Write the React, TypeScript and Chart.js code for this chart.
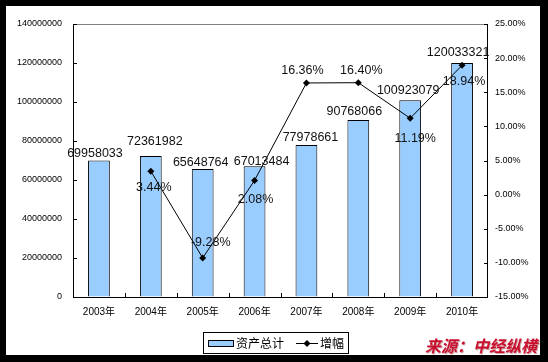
import React, { useEffect, useRef } from "react";
import { Chart, registerables } from "chart.js";

Chart.register(...registerables);

const years = ["2003年", "2004年", "2005年", "2006年", "2007年", "2008年", "2009年", "2010年"];
const totalAssets = [69958033, 72361982, 65648764, 67013484, 77978661, 90768066, 100923079, 120033321];
const growthPct = [null, 3.44, -9.28, 2.08, 16.36, 16.40, 11.19, 18.94];
const seriesNames = ["资产总计", "增幅"];
const leftTicks = { min: 0, max: 140000000, step: 20000000 };
const rightTicks = { min: -15, max: 25, step: 5 };
const sourceText = "来源：中经纵横";

// label placement tweaks (text centre relative to mark top/point), style only
const barLabelOffsets = [[-4, -7.5], [4, -14], [-2, -6], [7, -5], [4, -7.5], [-4, -8.5], [-2, -9.5], [-4, -10]];
const lineLabelOffsets = [[0, 0], [3, 16], [8, -15], [1, 19], [-4, -12.5], [3, -12], [5, 20], [2, 16]];

const LATIN = '"Liberation Sans", Arial, "Noto Sans CJK SC", sans-serif';

const decorPlugin = {
  id: "decor",
  afterDatasetsDraw(chart: any) {
    const ctx = chart.ctx;
    const { left, right, top, bottom } = chart.chartArea;
    ctx.save();
    // plot frame
    ctx.lineWidth = 1;
    ctx.strokeStyle = "#808080";
    ctx.beginPath();
    ctx.moveTo(left, top + 0.5);
    ctx.lineTo(right, top + 0.5);
    ctx.stroke();
    ctx.strokeStyle = "#000";
    ctx.beginPath();
    ctx.moveTo(left + 0.5, top);
    ctx.lineTo(left + 0.5, bottom + 0.5);
    ctx.lineTo(right - 0.5, bottom + 0.5);
    ctx.lineTo(right - 0.5, top);
    ctx.stroke();
    // inward tick marks
    const y = chart.scales.y;
    const y1 = chart.scales.y1;
    ctx.beginPath();
    y.ticks.forEach((t: any) => {
      const py = Math.round(y.getPixelForValue(t.value)) + 0.5;
      ctx.moveTo(left, py);
      ctx.lineTo(left + 4, py);
    });
    y1.ticks.forEach((t: any) => {
      const py = Math.round(y1.getPixelForValue(t.value)) + 0.5;
      ctx.moveTo(right, py);
      ctx.lineTo(right - 4, py);
    });
    const n = chart.data.labels.length;
    const cw = (right - left) / n;
    for (let i = 1; i < n; i++) {
      const px = Math.round(left + cw * i) + 0.5;
      ctx.moveTo(px, bottom);
      ctx.lineTo(px, bottom - 4);
    }
    ctx.stroke();

    // data labels
    ctx.fillStyle = "#111";
    ctx.font = "12.5px " + LATIN;
    ctx.textAlign = "center";
    ctx.textBaseline = "middle";
    const barMeta = chart.getDatasetMeta(0);
    barMeta.data.forEach((el: any, i: number) => {
      const v = chart.data.datasets[0].data[i];
      const off = barLabelOffsets[i] || [0, -8];
      ctx.fillText(String(v), el.x + off[0], el.y + off[1]);
    });
    const lineMeta = chart.getDatasetMeta(1);
    lineMeta.data.forEach((el: any, i: number) => {
      const v = chart.data.datasets[1].data[i];
      if (v === null || v === undefined) return;
      const off = lineLabelOffsets[i] || [0, -12];
      ctx.fillText(Number(v).toFixed(2) + "%", el.x + off[0], el.y + off[1]);
    });

    // legend
    const lx = 203, ly = 332, lw = 145, lh = 21;
    ctx.fillStyle = "#fff";
    ctx.fillRect(lx, ly, lw, lh);
    ctx.strokeStyle = "#000";
    ctx.strokeRect(lx + 0.5, ly + 0.5, lw, lh);
    const ds0 = chart.data.datasets[0];
    const ds1 = chart.data.datasets[1];
    ctx.fillStyle = ds0.backgroundColor;
    ctx.fillRect(208, 340, 25, 6);
    ctx.strokeRect(208.5, 340.5, 25, 6);
    ctx.fillStyle = "#000";
    ctx.font = '12px "Noto Sans CJK SC", sans-serif';
    ctx.textAlign = "left";
    ctx.textBaseline = "middle";
    ctx.fillText(ds0.label, 236, 343);
    ctx.beginPath();
    ctx.moveTo(296, 343.5);
    ctx.lineTo(318, 343.5);
    ctx.stroke();
    ctx.beginPath();
    ctx.moveTo(307, 340);
    ctx.lineTo(310.5, 343.5);
    ctx.lineTo(307, 347);
    ctx.lineTo(303.5, 343.5);
    ctx.closePath();
    ctx.fill();
    ctx.fillText(ds1.label, 320, 343);
    ctx.restore();
  },
};

export default function App() {
  const ref = useRef<HTMLCanvasElement | null>(null);
  useEffect(() => {
    if (!ref.current) return;
    const chart = new Chart(ref.current, {
      type: "bar",
      data: {
        labels: years,
        datasets: [
          {
            type: "bar",
            label: seriesNames[0],
            data: totalAssets,
            yAxisID: "y",
            backgroundColor: "#99CCFF",
            borderColor: "#000",
            borderWidth: 1,
            barPercentage: 0.42,
            categoryPercentage: 1,
            order: 2,
          } as any,
          {
            type: "line",
            label: seriesNames[1],
            data: growthPct,
            yAxisID: "y1",
            borderColor: "#000",
            borderWidth: 1,
            pointStyle: "rectRot",
            pointRadius: 3.5,
            pointBackgroundColor: "#000",
            pointBorderColor: "#000",
            pointBorderWidth: 0,
            spanGaps: true,
            order: 1,
          } as any,
        ],
      },
      options: {
        animation: false,
        responsive: false,
        maintainAspectRatio: false,
        layout: { padding: { top: 24, left: 0, right: 0, bottom: 0 } },
        plugins: { legend: { display: false }, tooltip: { enabled: false } },
        scales: {
          x: {
            grid: { display: true, drawOnChartArea: false, drawTicks: false },
            border: { display: false },
            ticks: { color: "#000", font: { size: 10, family: LATIN }, padding: 9, maxRotation: 0 },
            afterFit: (s: any) => { s.height = 65; },
          },
          y: {
            position: "left",
            min: leftTicks.min,
            max: leftTicks.max,
            grid: { display: true, drawOnChartArea: false, drawTicks: false },
            border: { display: false },
            ticks: {
              stepSize: leftTicks.step,
              color: "#000",
              font: { size: 9, family: LATIN },
              padding: 11,
              callback: (v: any) => String(v),
            },
            afterFit: (s: any) => { s.width = 73; },
          },
          y1: {
            position: "right",
            min: rightTicks.min,
            max: rightTicks.max,
            grid: { display: true, drawOnChartArea: false, drawTicks: false },
            border: { display: false },
            ticks: {
              stepSize: rightTicks.step,
              color: "#000",
              font: { size: 9, family: LATIN },
              padding: 7,
              callback: (v: any) => Number(v).toFixed(2) + "%",
            },
            afterFit: (s: any) => { s.width = 60; },
          },
        },
      },
      plugins: [decorPlugin],
    });
    return () => chart.destroy();
  }, []);

  return (
    <div style={{ position: "absolute", left: 0, top: 0, width: 548, height: 362, background: "#000", overflow: "hidden" }}>
      <div style={{ position: "absolute", left: 6, top: 6, width: 534, height: 349, background: "#fff" }} />
      <canvas ref={ref} width={548} height={362} style={{ position: "absolute", left: 0, top: 0, width: 548, height: 362 }} />
      <div
        style={{
          position: "absolute",
          left: 425,
          top: 335,
          fontFamily: '"Noto Sans CJK SC", sans-serif',
          fontWeight: 700,
          fontStyle: "italic",
          fontSize: 16,
          lineHeight: "20px",
          color: "#C8102E",
          whiteSpace: "nowrap",
          textShadow: "1px 1px 0 rgba(120,0,0,0.35)",
        }}
      >
        {sourceText}
      </div>
    </div>
  );
}
